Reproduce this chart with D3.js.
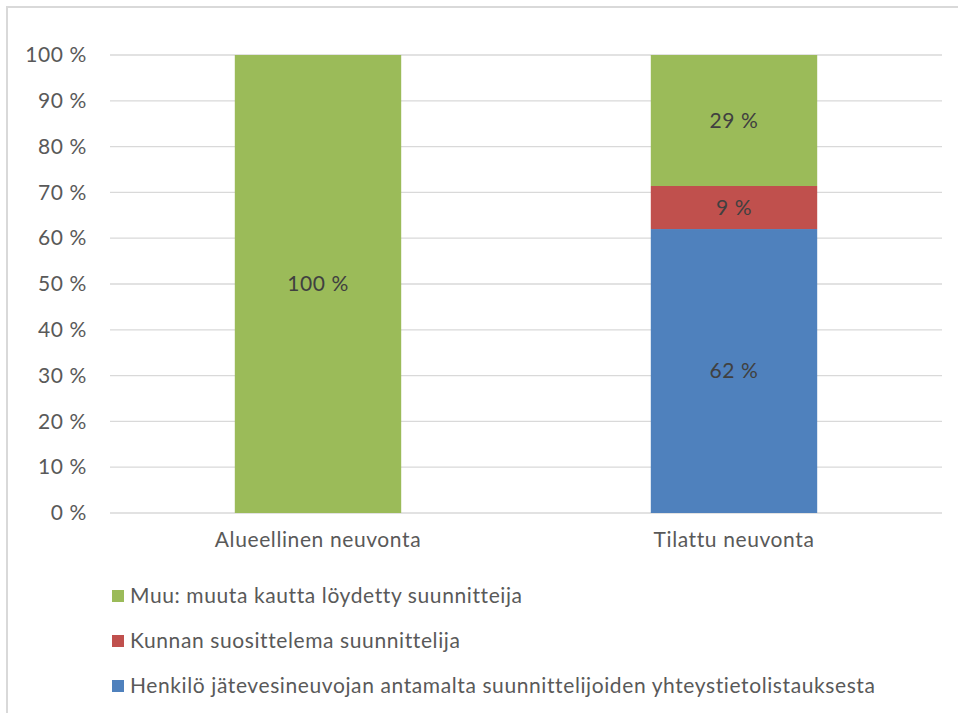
<!DOCTYPE html>
<html><head><meta charset="utf-8">
<script src="https://cdn.jsdelivr.net/npm/d3@7"></script>
<style>body{margin:0;background:#fff;} svg{display:block;font-family:Lato,"Open Sans",sans-serif;letter-spacing:0.6px;}</style>
</head><body>
<svg id="c" width="958" height="713"></svg>
<script>
const categories = ["Alueellinen neuvonta", "Tilattu neuvonta"];
const seriesNames = ["Henkilö jätevesineuvojan antamalta suunnittelijoiden yhteystietolistauksesta", "Kunnan suosittelema suunnittelija", "Muu: muuta kautta löydetty suunnitteija"];
const seriesColors = ["#4F81BD", "#C0504D", "#9BBB59"];
const henkiloValues = [0, 62];
const kunnanValues = [0, 9.4];
const muuValues = [100, 28.6];
const yTicks = [0, 10, 20, 30, 40, 50, 60, 70, 80, 90, 100];

const FS = 21;
const svg = d3.select("#c");
// frame
svg.append("rect").attr("x", 7).attr("y", 7).attr("width", 960).attr("height", 720)
  .attr("fill", "none").attr("stroke", "#d9d9d9").attr("stroke-width", 2);

const x = d3.scaleBand().domain(categories).range([110, 942]).paddingInner(0.6).paddingOuter(0.3);
const y = d3.scaleLinear().domain([0, 100]).range([513, 55]);

// gridlines
svg.append("g").selectAll("line").data(yTicks).join("line")
  .attr("x1", 110).attr("x2", 942).attr("y1", d => y(d)).attr("y2", d => y(d))
  .attr("stroke", "#d9d9d9").attr("stroke-width", 1.3);

// y axis
const yAxis = d3.axisLeft(y).tickValues(yTicks).tickFormat(d => d + " %").tickSize(0).tickPadding(0);
const ya = svg.append("g").attr("transform", "translate(87,0)").call(yAxis);
ya.select(".domain").remove();
ya.selectAll("text").attr("font-size", FS).attr("fill", "#595959").attr("font-family", "Lato,'Open Sans',sans-serif");

// x axis
const xAxis = d3.axisBottom(x).tickSize(0).tickPadding(0);
const xa = svg.append("g").attr("transform", "translate(0,532)").call(xAxis);
xa.select(".domain").remove();
xa.selectAll("text").attr("font-size", FS).attr("fill", "#595959").attr("font-family", "Lato,'Open Sans',sans-serif");

const table = categories.map((c, i) => ({cat: c, s0: henkiloValues[i], s1: kunnanValues[i], s2: muuValues[i]}));
const stack = d3.stack().keys(["s0", "s1", "s2"])(table);

const layers = svg.append("g").selectAll("g").data(stack).join("g").attr("fill", (d, i) => seriesColors[i]);
layers.selectAll("rect").data(d => d).join("rect")
  .attr("x", d => x(d.data.cat)).attr("width", x.bandwidth())
  .attr("y", d => y(d[1])).attr("height", d => y(d[0]) - y(d[1]));

// labels
layers.selectAll("text").data(d => d.filter(v => v[1] - v[0] > 0)).join("text")
  .attr("x", d => x(d.data.cat) + x.bandwidth() / 2)
  .attr("y", d => (y(d[0]) + y(d[1])) / 2)
  .attr("dy", "0.35em").attr("text-anchor", "middle")
  .attr("font-size", FS).attr("fill", "#404040")
  .text(d => Math.round(d[1] - d[0]) + " %");

// legend
const legendOrder = [2, 1, 0];
const legendY = [596, 641, 686];
const lg = svg.append("g").selectAll("g").data(legendOrder).join("g")
  .attr("transform", (d, i) => `translate(112,${legendY[i]})`);
lg.append("rect").attr("x", 0).attr("y", -6).attr("width", 12).attr("height", 12).attr("fill", d => seriesColors[d]);
lg.append("text").attr("x", 18).attr("dy", "0.35em").attr("font-size", FS).attr("fill", "#595959").text(d => seriesNames[d]);
</script>
</body></html>
